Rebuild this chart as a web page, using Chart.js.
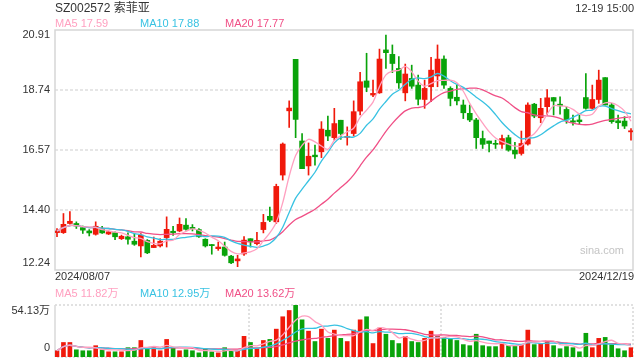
<!DOCTYPE html>
<html>
<head>
<meta charset="utf-8">
<script src="https://cdn.jsdelivr.net/npm/chart.js@4.4.1/dist/chart.umd.min.js"></script>
<style>
  html, body { margin: 0; padding: 0; background: #fff; }
  #wrap { position: relative; width: 640px; height: 360px; }
  #wrap canvas { position: absolute; left: 0; top: 0; }
</style>
</head>
<body>
<div id="wrap">
  <canvas id="kline" width="640" height="360"></canvas>
  <canvas id="vol" width="640" height="360"></canvas>
</div>
<script>
// daily bars, 2024/08/07 .. 2024/12/19 (90 trading days)
const opens = [13.59, 13.59, 13.92, 13.92, 13.77, 13.65, 13.53, 13.74, 13.54, 13.59,
  13.37, 13.44, 13.28, 13.11, 13.31, 13.05, 13.11, 13.41, 13.64, 13.65,
  13.86, 13.78, 13.70, 13.35, 13.16, 13.01, 13.07, 12.74, 12.57, 12.82,
  13.37, 13.19, 13.70, 14.18, 13.98, 15.67, 17.99, 19.85, 16.90, 16.00,
  16.39, 16.51, 17.29, 17.02, 17.65, 17.03, 17.17, 17.98, 19.07, 18.56,
  18.64, 20.19, 20.03, 19.52, 18.64, 19.16, 18.92, 18.40, 18.86, 19.25,
  19.86, 18.80, 18.48, 18.20, 17.90, 17.66, 16.99, 16.90, 16.81, 16.78,
  17.02, 16.57, 16.45, 16.79, 18.23, 17.74, 18.14, 18.47, 18.23, 18.04,
  17.63, 17.66, 18.47, 18.08, 18.40, 19.19, 18.20, 17.63, 17.62, 17.23];
const highs = [13.74, 14.28, 14.35, 13.98, 13.83, 13.70, 13.98, 13.82, 13.65, 13.62,
  13.50, 13.58, 13.56, 13.56, 13.34, 13.43, 13.37, 14.16, 13.82, 14.12,
  14.10, 13.88, 13.74, 13.37, 13.16, 13.25, 13.25, 12.77, 12.77, 13.45,
  13.37, 13.60, 14.25, 14.51, 15.34, 16.83, 18.35, 19.85, 17.17, 16.83,
  16.75, 17.60, 17.80, 18.08, 17.65, 17.41, 18.35, 19.38, 20.07, 19.10,
  20.22, 20.73, 20.37, 19.95, 19.68, 19.64, 19.28, 19.10, 19.92, 20.37,
  19.98, 18.86, 18.92, 18.38, 18.20, 17.72, 17.26, 16.90, 16.93, 17.11,
  17.11, 16.85, 17.26, 18.28, 18.26, 18.44, 18.76, 18.47, 18.50, 18.14,
  17.84, 17.84, 19.34, 18.92, 19.46, 19.19, 18.26, 17.84, 17.78, 17.35];
const lows = [13.44, 13.56, 13.90, 13.74, 13.56, 13.47, 13.50, 13.56, 13.52, 13.34,
  13.34, 13.17, 13.13, 12.71, 12.83, 13.05, 13.07, 13.07, 13.49, 13.62,
  13.68, 13.65, 13.42, 13.07, 12.81, 12.95, 12.74, 12.47, 12.36, 12.77,
  13.07, 13.15, 13.58, 13.99, 13.92, 15.49, 17.39, 17.02, 15.90, 15.67,
  16.03, 16.30, 16.91, 16.93, 16.96, 16.75, 17.08, 17.84, 18.68, 18.50,
  18.62, 19.52, 19.37, 18.80, 18.35, 18.80, 18.20, 18.08, 18.32, 18.86,
  18.80, 18.17, 18.20, 17.71, 17.60, 16.63, 16.63, 16.51, 16.63, 16.63,
  16.53, 16.27, 16.39, 16.75, 17.74, 17.56, 17.84, 17.84, 17.87, 17.54,
  17.47, 17.51, 18.05, 18.05, 18.26, 18.20, 17.54, 17.35, 17.35, 16.93];
const closes = [13.65, 13.89, 14.00, 13.83, 13.68, 13.58, 13.82, 13.58, 13.62, 13.44,
  13.46, 13.35, 13.17, 13.50, 12.86, 13.13, 13.28, 13.71, 13.59, 13.89,
  13.71, 13.74, 13.44, 13.11, 13.12, 13.07, 12.77, 12.50, 12.64, 13.32,
  13.26, 13.31, 13.96, 14.04, 15.26, 16.79, 18.09, 17.68, 15.90, 16.35,
  16.33, 17.33, 17.08, 17.53, 17.17, 17.07, 17.96, 19.04, 18.84, 18.62,
  19.86, 20.09, 19.70, 19.00, 19.32, 18.88, 18.41, 18.80, 19.46, 19.86,
  18.92, 18.44, 18.35, 17.92, 17.66, 17.02, 16.78, 16.81, 16.78, 16.99,
  16.57, 16.43, 16.81, 18.20, 17.80, 18.08, 18.46, 18.34, 18.17, 17.66,
  17.58, 17.60, 18.08, 18.40, 19.10, 18.20, 17.60, 17.56, 17.44, 17.27];
// volume in 万 (10k shares)
const volumes = [6.5, 15.1, 15.1, 7.5, 6.5, 6.5, 11.8, 7.5, 5.4, 5.4,
  5.4, 9.7, 9.7, 17.2, 8.6, 9.7, 6.5, 18.3, 9.7, 6.5,
  7.5, 6.5, 4.3, 8.6, 5.4, 4.3, 9.7, 6.5, 6.5, 21.5,
  15.1, 8.6, 17.2, 18.3, 29.0, 41.9, 48.4, 54.13, 38.7, 26.9,
  16.1, 29.0, 19.4, 28.0, 19.4, 16.1, 28.0, 38.7, 41.9, 14.0,
  30.1, 23.7, 17.2, 14.0, 21.5, 16.1, 15.1, 19.4, 26.9, 21.5,
  20.4, 19.4, 17.2, 12.9, 11.8, 23.7, 11.8, 10.8, 10.8, 14.0,
  11.8, 11.8, 12.9, 28.0, 12.9, 14.0, 17.2, 11.8, 8.6, 10.8,
  9.7, 5.4, 24.7, 9.7, 19.4, 20.4, 12.9, 8.6, 6.5, 9.7];

const dateLabels = ['2024/08/07', '2024/12/19'];
const priceTicks = [12.24, 14.40, 16.57, 18.74, 20.91];
const volTicks = [0, 54.13];
const maLegend = ['MA5 17.59', 'MA10 17.88', 'MA20 17.77'];
const volLegend = ['MA5 11.82万', 'MA10 12.95万', 'MA20 13.62万'];

const RED = '#f0190b';
const GREEN = '#09a30a';
const MA_COLORS = ['#ffa0c0', '#38c2e2', '#f04f86'];
const FONT = '"Liberation Sans", Arial, "Noto Sans CJK SC", sans-serif';

const idx = closes.map((_, i) => i);
const barColors = idx.map(i => closes[i] >= opens[i] ? RED : GREEN);

// moving average of the read values (shorter window at the start)
function movingAvg(src, n) {
  return src.map((_, i) => {
    const part = src.slice(Math.max(0, i - n + 1), i + 1);
    return part.reduce((a, b) => a + b, 0) / part.length;
  });
}

function maDatasets(src) {
  return [5, 10, 20].map((n, k) => ({
    type: 'line',
    label: 'MA' + n,
    data: movingAvg(src, n).map((v, i) => ({ x: i, y: v })),
    borderColor: MA_COLORS[k],
    borderWidth: 1.3,
    pointRadius: 0,
    tension: 0.3,
    order: 0
  }));
}

const xScale = { type: 'linear', display: false, offset: false, min: -0.31, max: 89.31 };

const klineFrame = {
  id: 'klineFrame',
  beforeDatasetsDraw(chart) {
    const { ctx, chartArea: a, scales: { y } } = chart;
    ctx.save();
    ctx.strokeStyle = '#e6e6e6';
    ctx.lineWidth = 2;
    ctx.setLineDash([3, 2]);
    priceTicks.slice(1, -1).forEach(v => {
      const py = Math.round(y.getPixelForValue(v));
      ctx.beginPath();
      ctx.moveTo(a.left, py);
      ctx.lineTo(a.right, py);
      ctx.stroke();
    });
    ctx.setLineDash([]);
    ctx.strokeStyle = '#d6d6d6';
    ctx.lineWidth = 1.5;
    ctx.strokeRect(a.left, a.top, a.right - a.left, a.bottom - a.top);
    ctx.restore();
  },
  afterDraw(chart) {
    const { ctx, chartArea: a, scales: { y } } = chart;
    ctx.save();
    ctx.textBaseline = 'middle';
    // title + time
    ctx.fillStyle = '#333';
    ctx.font = '12px ' + FONT;
    ctx.textAlign = 'left';
    ctx.fillText('SZ002572 索菲亚', 55, 9);
    ctx.font = '11px ' + FONT;
    ctx.textAlign = 'right';
    ctx.fillText('12-19 15:00', 634, 9);
    // MA legend
    ctx.textAlign = 'left';
    [55, 140, 225].forEach((lx, k) => {
      ctx.fillStyle = MA_COLORS[k];
      ctx.fillText(maLegend[k], lx, 24);
    });
    // price labels
    ctx.fillStyle = '#333';
    ctx.textAlign = 'right';
    priceTicks.forEach(v => {
      const py = Math.min(Math.max(y.getPixelForValue(v), a.top + 5), a.bottom - 7);
      ctx.fillText(v.toFixed(2), a.left - 5, py);
    });
    // dates
    ctx.textAlign = 'left';
    ctx.fillText(dateLabels[0], 55, 277);
    ctx.textAlign = 'right';
    ctx.fillText(dateLabels[1], 634, 277);
    // watermark
    ctx.fillStyle = '#c4c4c4';
    ctx.fillText('sina.com', 624, 251);
    ctx.restore();
  }
};

const volFrame = {
  id: 'volFrame',
  beforeDatasetsDraw(chart) {
    const { ctx, chartArea: a } = chart;
    ctx.save();
    ctx.strokeStyle = '#d8d8d8';
    ctx.lineWidth = 1.5;
    ctx.setLineDash([2, 2]);
    ctx.beginPath();
    ctx.moveTo(a.left, a.top); ctx.lineTo(a.right, a.top);
    ctx.lineTo(a.right, a.bottom); ctx.lineTo(a.left, a.bottom);
    const w = a.right - a.left;
    [1, 2].forEach(k => {
      const px = Math.round(a.left + w * k / 3) + 1;
      ctx.moveTo(px, a.top); ctx.lineTo(px, a.bottom);
    });
    ctx.stroke();
    ctx.setLineDash([]);
    ctx.beginPath();
    ctx.moveTo(a.left, a.top); ctx.lineTo(a.left, a.bottom);
    ctx.stroke();
    ctx.restore();
  },
  afterDraw(chart) {
    const { ctx, chartArea: a } = chart;
    ctx.save();
    ctx.textBaseline = 'middle';
    ctx.font = '11px ' + FONT;
    ctx.textAlign = 'left';
    [55, 140, 225].forEach((lx, k) => {
      ctx.fillStyle = MA_COLORS[k];
      ctx.fillText(volLegend[k], lx, 294);
    });
    ctx.fillStyle = '#333';
    ctx.textAlign = 'right';
    ctx.fillText(volTicks[1].toFixed(2) + '万', a.left - 5, a.top + 6);
    ctx.fillText(String(volTicks[0]), a.left - 5, a.bottom - 9);
    ctx.restore();
  }
};

new Chart(document.getElementById('kline'), {
  type: 'bar',
  data: {
    datasets: [
      ...maDatasets(closes),
      {
        label: 'body',
        data: idx.map(i => ({ x: i, y: [Math.min(opens[i], closes[i]), Math.max(opens[i], closes[i])] })),
        backgroundColor: barColors,
        barThickness: 5,
        minBarLength: 1,
        grouped: false,
        order: 1
      },
      {
        label: 'wick',
        data: idx.map(i => ({ x: i, y: [lows[i], highs[i]] })),
        backgroundColor: barColors,
        barThickness: 1,
        grouped: false,
        order: 2
      }
    ]
  },
  options: {
    responsive: false,
    devicePixelRatio: 1,
    animation: false,
    layout: { padding: { left: 55, right: 7, top: 30, bottom: 90 } },
    plugins: { legend: { display: false }, tooltip: { enabled: false } },
    scales: {
      x: xScale,
      y: { display: false, min: priceTicks[0], max: priceTicks[priceTicks.length - 1] }
    }
  },
  plugins: [klineFrame]
});

new Chart(document.getElementById('vol'), {
  type: 'bar',
  data: {
    datasets: [
      ...maDatasets(volumes),
      {
        label: 'volume',
        data: idx.map(i => ({ x: i, y: volumes[i] })),
        backgroundColor: barColors,
        barThickness: 4,
        grouped: false,
        order: 1
      }
    ]
  },
  options: {
    responsive: false,
    devicePixelRatio: 1,
    animation: false,
    layout: { padding: { left: 55, right: 7, top: 305, bottom: 3 } },
    plugins: { legend: { display: false }, tooltip: { enabled: false } },
    scales: {
      x: xScale,
      y: { display: false, min: volTicks[0], max: volTicks[1] }
    }
  },
  plugins: [volFrame]
});
</script>
</body>
</html>
